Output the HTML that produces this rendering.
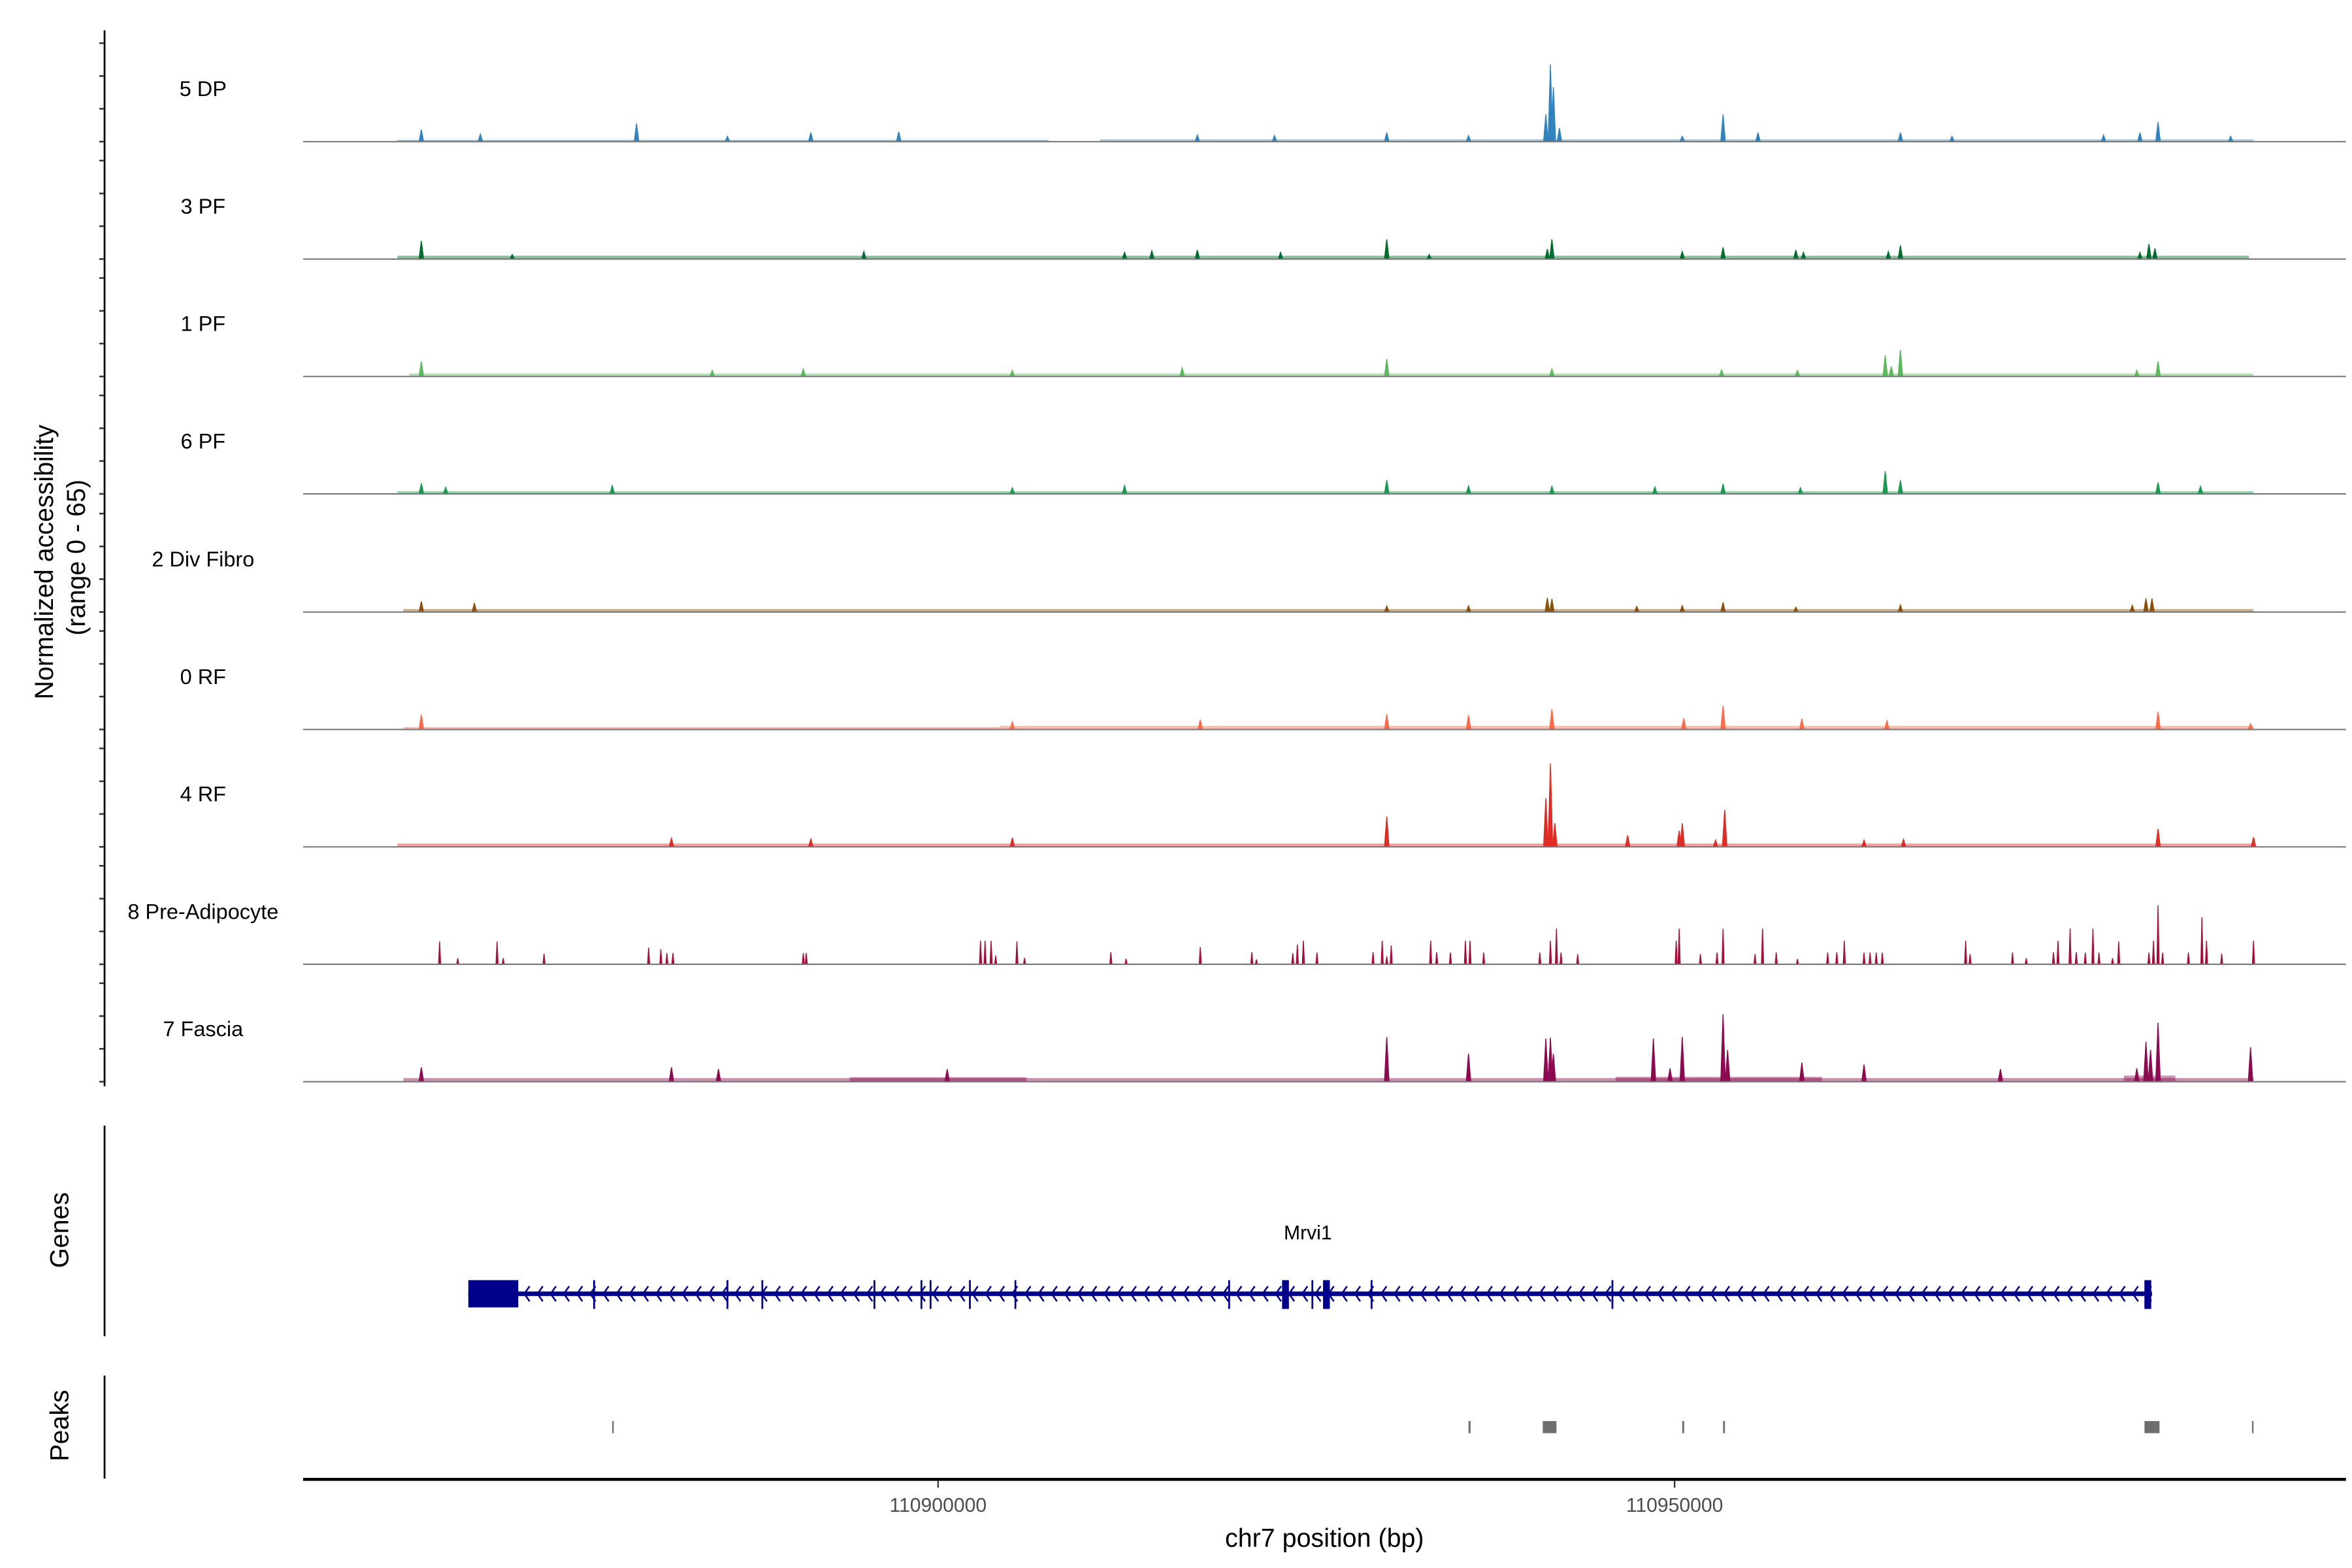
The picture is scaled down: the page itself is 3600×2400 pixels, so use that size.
<!DOCTYPE html>
<html><head><meta charset="utf-8"><style>
html,body{margin:0;padding:0;background:#fff;}
svg{display:block;font-family:"Liberation Sans",Arial,sans-serif;}
</style></head><body>
<svg id="chart" width="3600" height="2400" viewBox="0 0 1552 1035" preserveAspectRatio="none" xmlns="http://www.w3.org/2000/svg">
<rect x="0" y="0" width="1552" height="1035" fill="#fff"/>
<g id="tracks"></g>
<g id="genes"></g>
<g id="peaks"></g>
<g id="axes"></g>
</svg>
<script>
// ---- data (positions in kb offset from 110,850,000) ----
const trackNames = ["5 DP","3 PF","1 PF","6 PF","2 Div Fibro","0 RF","4 RF","8 Pre-Adipocyte","7 Fascia"];
const trackColors = ["#3182bd","#006d2c","#5cb85c","#1a9850","#8c510a","#fb6a4a","#de2d26","#a50f3c","#8b0a50"];
const yMax = 65;
const xTicks = [110900000, 110950000];
const xTickLabels = ["110900000", "110950000"];

const pk0 = [14.92,18.93,29.53,35.70,41.36,47.33,67.60,72.84,80.46,86.01,91.26,91.57,91.77,92.18,100.52,103.29,105.66,115.33,118.83,129.12,131.59,132.82,137.75];
const ht0 = [8,5,12,3.5,6,6.5,4.4,4,6,4,18,51,36,9,3.5,18,6,6,3.5,4.4,6,13,3.5];
const pk1 = [14.92,21.09,44.96,62.66,64.51,67.60,73.25,80.46,83.34,91.67,91.36,100.52,103.29,108.23,108.75,115.33,114.51,132.20,132.61,131.59];
const ht1 = [12,3,5,4.4,5.5,6,4.4,13,3,13,6.6,5,7.7,6,4.4,9,5,10,7,4.4];
const pk2 = [14.92,34.67,40.85,55.04,66.57,80.46,91.67,103.19,108.34,114.30,115.33,114.71,132.82,131.38];
const ht2 = [10,4,5,4,5.7,11.6,5,4.4,4,14,17.6,6.6,10,4];
const pk3 = [14.92,16.57,27.88,55.04,62.66,80.46,86.01,91.67,98.66,103.29,108.54,114.30,115.33,132.82,135.70];
const ht3 = [7,4.4,5.5,4,5.5,9,5.3,5,4.6,6.6,4,15,9,7.5,5];
const pk4 = [14.92,18.52,80.46,86.01,91.36,91.67,97.43,100.52,103.29,108.23,115.33,132.00,132.41,131.07];
const ht4 = [7,6,4,4.2,9.4,8.7,3.7,4.2,6.4,3.2,4.7,9,9,4.5];
const pk5 = [14.92,55.04,67.80,80.46,86.01,91.67,100.62,103.29,108.64,114.41,132.82,139.10];
const ht5 = [9.7,5,6.4,10,9.4,13.4,7.4,15.6,7,5.7,11.6,3.7];
const pk6 = [31.90,41.36,55.04,80.46,91.26,91.57,91.87,96.81,100.52,100.31,103.40,102.78,112.86,115.54,132.82,139.30];
const ht6 = [5.7,5.2,6,20,32,55,15.6,7.7,15.6,10.6,24.5,4.5,4.5,5,12,6.4];
const pk7 = [16.16,17.39,20.06,20.48,23.25,30.35,31.18,31.59,32.00,40.85,41.05,52.88,53.19,53.60,53.91,55.35,55.87,61.73,62.76,67.80,71.30,71.61,74.08,74.39,74.80,75.72,79.53,80.15,80.46,80.76,83.44,83.85,84.78,85.80,86.11,87.04,90.85,91.57,91.98,92.29,93.42,100.11,100.31,101.75,102.88,103.29,105.46,105.97,106.90,108.34,110.39,111.01,111.52,112.86,113.27,113.69,114.10,119.76,120.06,122.94,123.87,125.72,126.03,126.85,127.27,127.88,128.40,128.81,129.73,130.15,132.20,132.51,132.82,133.13,134.88,135.80,136.11,137.14,139.30];
const ht7 = [15,4,15,4,7,11,10,7.4,7.4,7.4,7.4,15.6,15.6,15.6,5.7,15,4.2,8,3.7,11.4,8,3.2,7.4,13,15.6,7.7,8,15.6,5.2,12.4,15.6,8,7.7,15.6,15.6,7.7,7.7,15.6,23.5,7.7,6.7,15.6,23.5,6.7,7.7,23.5,6.7,23.5,7.7,3.5,7.7,8,15.6,7.7,7.7,7.7,7.7,15.6,6.7,7.7,4,8,15.6,23.5,8,7.7,23.5,7.7,4,15,7.7,15.6,39,7.7,7.7,31,15.6,7,15.6];
const pk8 = [14.92,31.90,35.09,50.62,80.46,86.01,91.26,91.57,91.77,98.56,100.52,103.29,103.60,99.69,108.64,112.86,122.12,132.00,132.31,132.82,131.38,139.10];
const ht8 = [9.5,9.5,8.3,8.3,29.5,18.4,28.5,29,18.4,28.5,29.5,44.6,21,8.8,12.6,11.3,8.3,26.4,21,39,8.8,22.7];

const peakPos = [pk0,pk1,pk2,pk3,pk4,pk5,pk6,pk7,pk8];
const peakHt = [ht0,ht1,ht2,ht3,ht4,ht5,ht6,ht7,ht8];
// background signal regions [startKb, endKb, level]
const bg0 = [[13.3,57.5,1.2],[61,139.3,1.5]];
const bg1 = [[13.3,139.0,2.2]];
const bg2 = [[14.1,139.3,2.0]];
const bg3 = [[13.3,139.3,1.8]];
const bg4 = [[13.7,139.3,2.0]];
const bg5 = [[13.7,54.2,1.6],[54.2,139.3,2.4]];
const bg6 = [[13.3,139.3,2.2]];
const bg7 = [];
const bg8 = [[13.7,139.3,2.4],[44,56,3],[96,110,3.2],[130.5,134,4]];
const bgRegions = [bg0,bg1,bg2,bg3,bg4,bg5,bg6,bg7,bg8];

const geneStart = 18.11, geneEnd = 132.41;
const utrStart = 18.11, utrEnd = 21.50;
const exons = [26.65,35.70,38.07,45.68,48.87,49.49,52.16,55.25,69.76,75.41,79.43,95.78];
const thickExons = [73.56,76.34,132.10];
const peakStarts = [27.88,86.01,91.05,100.52,103.29,131.90,139.20];
const peakEnds   = [27.95,86.15,91.98,100.65,103.42,132.92,139.27];

// ---- scales ----
const BASE = 110850000;
function X(bp){ return 619 + (bp - 110900000) * (1105 - 619) / 50000; }
function XK(kb){ return X(BASE + kb * 1000); }
const baselines = [93.5,171,248.5,326,404,481.5,559,636.5,714];
function Y(i, v){ return baselines[i] - v * 65 / yMax; }

const NS = "http://www.w3.org/2000/svg";
function mk(tag, attrs, parent){ const e = document.createElementNS(NS, tag); for (const k in attrs) e.setAttribute(k, attrs[k]); parent.appendChild(e); return e; }

const tracksG = document.getElementById('tracks');
for (let i = 0; i < trackNames.length; i++){
  const g = mk('g', {}, tracksG);
  
  
  const lab = mk('text', {x:134, y:baselines[i]-30, 'font-size':14, 'text-anchor':'middle', fill:'#000'}, g);
  lab.textContent = trackNames[i];
  
  
  bgRegions[i].forEach(r => {
    const rc = mk('rect', {x:XK(r[0]), y:Y(i,r[2]), width:XK(r[1])-XK(r[0]), height:baselines[i]-Y(i,r[2]), fill:trackColors[i], opacity:0.45}, g);
    
    
  });
  const pos = peakPos[i], hts = peakHt[i];
  const w = i === 7 ? 0.7 : 1.5;
  for (let j = 0; j < pos.length; j++){
    const x = XK(pos[j]);
    const p = mk('path', {d:`M${x-w},${baselines[i]} L${x},${Y(i,hts[j])} L${x+w},${baselines[i]} Z`, fill:trackColors[i], stroke:trackColors[i], 'stroke-width':0.6}, g);
    
    
  }
  const bl = mk('line', {x1:200, x2:1548, y1:baselines[i], y2:baselines[i], stroke:'#777', 'stroke-width':0.9}, g);
  
  
}

// gene track
const gG = document.getElementById('genes');
const gy = 854, gc = '#00008b';
let e = mk('line', {x1:XK(geneStart), x2:XK(geneEnd), y1:gy, y2:gy, stroke:gc, 'stroke-width':3}, gG);
 
let chev = '';
for (let x = XK(utrEnd) + 4; x < XK(geneEnd) - 2; x += 8.7){ chev += `M${x+3.5},${gy-5} L${x},${gy} L${x+3.5},${gy+5} `; }
e = mk('path', {d:chev, fill:'none', stroke:gc, 'stroke-width':1.1}, gG);
 
e = mk('rect', {x:XK(utrStart), y:845, width:XK(utrEnd)-XK(utrStart), height:18, fill:gc}, gG);
 
exons.forEach(k => { const r = mk('rect', {x:XK(k)-0.6, y:845, width:1.2, height:19, fill:gc}, gG);
    });
thickExons.forEach(k => { const r = mk('rect', {x:XK(k)-2, y:845, width:4.5, height:19, fill:gc}, gG);
    });
e = mk('text', {x:863, y:818, 'font-size':13, 'text-anchor':'middle', fill:'#000'}, gG);
e.textContent = 'Mrvi1';  

// peaks track
const pG = document.getElementById('peaks');
for (let j = 0; j < peakStarts.length; j++){
  const x0 = XK(peakStarts[j]), x1 = XK(peakEnds[j]);
  const r = mk('rect', {x:x0, y:938, width:Math.max(x1-x0, 1), height:8, fill:'#6e6e6e'}, pG);
  
  
}

// axes
const aG = document.getElementById('axes');
function ln(a, name){ const l = mk('line', a, aG);   return l; }
ln({x1:69, x2:69, y1:20, y2:717, stroke:'#000', 'stroke-width':1.2}, 'y-axis-line');
for (let i = 0; i < baselines.length; i++){
  [0, 21.7, 43.3, 65].forEach(v => ln({x1:65.5, x2:69, y1:Y(i,v), y2:Y(i,v), stroke:'#333', 'stroke-width':1.1}, 'y-axis-tick'));
}
ln({x1:69, x2:69, y1:743, y2:882, stroke:'#000', 'stroke-width':1.2}, 'genes-axis-line');
ln({x1:69, x2:69, y1:908, y2:976, stroke:'#000', 'stroke-width':1.2}, 'peaks-axis-line');
ln({x1:200, x2:1548, y1:976.5, y2:976.5, stroke:'#000', 'stroke-width':2}, 'x-axis-line');
for (let t = 0; t < xTicks.length; t++){
  ln({x1:X(xTicks[t]), x2:X(xTicks[t]), y1:977, y2:982, stroke:'#333', 'stroke-width':1}, 'x-axis-tick');
  const tx = mk('text', {x:X(xTicks[t]), y:998, 'font-size':13, 'text-anchor':'middle', fill:'#4d4d4d'}, aG);
  tx.textContent = xTickLabels[t];
  
  
}
function tt(txt, a, name){ const t = mk('text', a, aG); t.textContent = txt;   }
tt('chr7 position (bp)', {x:874, y:1021, 'font-size':17, 'text-anchor':'middle', fill:'#000'}, 'x-axis-title');
tt('Normalized accessibility', {x:0, y:0, 'font-size':17, 'text-anchor':'middle', fill:'#000', transform:'translate(35,371) rotate(-90)'}, 'y-axis-title');
tt('(range 0 - 65)', {x:0, y:0, 'font-size':17, 'text-anchor':'middle', fill:'#000', transform:'translate(56,368) rotate(-90)'}, 'y-axis-subtitle');
tt('Genes', {x:0, y:0, 'font-size':17, 'text-anchor':'middle', fill:'#000', transform:'translate(45,812) rotate(-90)'}, 'genes-axis-title');
tt('Peaks', {x:0, y:0, 'font-size':17, 'text-anchor':'middle', fill:'#000', transform:'translate(45,941) rotate(-90)'}, 'peaks-axis-title');
</script>
</body></html>
